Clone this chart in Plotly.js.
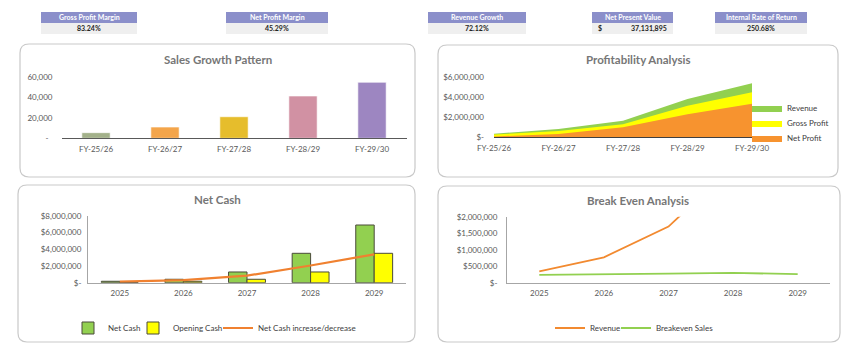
<!DOCTYPE html>
<html>
<head>
<meta charset="utf-8">
<script src="https://cdn.plot.ly/plotly-3.0.1.min.js"></script>
<style>html,body{margin:0;padding:0;background:#fff;}#chart{width:850px;height:352px;}</style>
</head>
<body>
<div id="chart"></div>
<script>
// ---------- DATA ----------
const kpiLabels = ['Gross Profit Margin', 'Net Profit Margin', 'Revenue Growth', 'Net Present Value', 'Internal Rate of Return'];
const kpiValues = ['83.24%', '45.29%', '72.12%', '37,131,895', '250.68%'];

const fiscalYears = ['FY-25/26', 'FY-26/27', 'FY-27/28', 'FY-28/29', 'FY-29/30'];
const salesUnits = [5500, 11000, 21100, 41400, 54800];

const profitRevenue = [330000, 800000, 1630000, 3800000, 5370000];
const profitGross = [250000, 600000, 1270000, 3130000, 4470000];
const profitNet = [60000, 300000, 970000, 2270000, 3330000];

const calendarYears = ['2025', '2026', '2027', '2028', '2029'];
const netCash = [170000, 410000, 1280000, 3510000, 6890000];
const openingCash = [0, 170000, 410000, 1280000, 3510000];
const netCashChange = [130000, 310000, 840000, 2050000, 3390000];

const breakRevenue = [345000, 770000, 1700000, 3700000, 5370000];
const breakevenSales = [237000, 268000, 277000, 298000, 258000];

const salesTicks = [0, 20000, 40000, 60000];
const salesTickText = ['-\u00a0\u00a0', '20,000', '40,000', '60,000'];
const profitTicks = [0, 2000000, 4000000, 6000000];
const profitTickText = ['$-', '$2,000,000', '$4,000,000', '$6,000,000'];
const cashTicks = [0, 2000000, 4000000, 6000000, 8000000];
const cashTickText = ['$-', '$2,000,000', '$4,000,000', '$6,000,000', '$8,000,000'];
const beTicks = [0, 500000, 1000000, 1500000, 2000000];
const beTickText = ['$-', '$500,000', '$1,000,000', '$1,500,000', '$2,000,000'];

// ---------- STYLE ----------
const W = 850, H = 352;
const fx = p => p / W;
const fy = p => 1 - p / H;
const FONT = 'Lato, "Open Sans", sans-serif';
const tickFont = {family: FONT, size: 8, color: '#595959'};
const salesColors = ['#a3b18a', '#f4a54a', '#e6bd2c', '#d191a3', '#9d86c1'];

function roundRect(x0, y0, x1, y1, r) {
  const X = fx, Y = fy;
  const rx = r / W, ry = r / H;
  return 'M' + (X(x0) + rx) + ',' + Y(y0) +
    ' L' + (X(x1) - rx) + ',' + Y(y0) +
    ' Q' + X(x1) + ',' + Y(y0) + ' ' + X(x1) + ',' + (Y(y0) - ry) +
    ' L' + X(x1) + ',' + (Y(y1) + ry) +
    ' Q' + X(x1) + ',' + Y(y1) + ' ' + (X(x1) - rx) + ',' + Y(y1) +
    ' L' + (X(x0) + rx) + ',' + Y(y1) +
    ' Q' + X(x0) + ',' + Y(y1) + ' ' + X(x0) + ',' + (Y(y1) + ry) +
    ' L' + X(x0) + ',' + (Y(y0) - ry) +
    ' Q' + X(x0) + ',' + Y(y0) + ' ' + (X(x0) + rx) + ',' + Y(y0) + ' Z';
}

const shapes = [];
const annotations = [];

// panels
[[20, 44, 415, 177], [438, 45, 838, 177], [18, 185, 415, 342], [438, 186, 840, 342]].forEach(p => {
  shapes.push({type: 'path', xref: 'paper', yref: 'paper', path: roundRect(p[0], p[1], p[2], p[3], 9),
    line: {color: '#c9c9c9', width: 1.2}, fillcolor: 'rgba(0,0,0,0)', layer: 'below'});
});

// KPI boxes
const kpiBoxes = [[41, 137], [226, 328], [428, 526], [592, 673], [715, 807]];
kpiLabels.forEach((lab, i) => {
  const b = kpiBoxes[i];
  shapes.push({type: 'rect', xref: 'paper', yref: 'paper', x0: fx(b[0]), x1: fx(b[1]), y0: fy(23), y1: fy(12),
    fillcolor: '#8b8fca', line: {width: 0}, layer: 'below'});
  shapes.push({type: 'rect', xref: 'paper', yref: 'paper', x0: fx(b[0]), x1: fx(b[1]), y0: fy(34), y1: fy(23),
    fillcolor: '#efefef', line: {width: 0}, layer: 'below'});
  annotations.push({xref: 'paper', yref: 'paper', x: fx((b[0] + b[1]) / 2), y: fy(17.5), text: '<b>' + lab + '</b>',
    showarrow: false, xanchor: 'center', yanchor: 'middle', font: {family: FONT, size: 7, color: '#ffffff'}});
  if (lab === 'Net Present Value') {
    annotations.push({xref: 'paper', yref: 'paper', x: fx(b[0] + 4), y: fy(28.5), text: '<b>$</b>',
      showarrow: false, xanchor: 'left', yanchor: 'middle', font: {family: FONT, size: 7, color: '#262626'}});
    annotations.push({xref: 'paper', yref: 'paper', x: fx(b[1] - 4), y: fy(28.5), text: '<b>' + kpiValues[i] + '</b>',
      showarrow: false, xanchor: 'right', yanchor: 'middle', font: {family: FONT, size: 7, color: '#262626'}});
  } else {
    annotations.push({xref: 'paper', yref: 'paper', x: fx((b[0] + b[1]) / 2), y: fy(28.5), text: '<b>' + kpiValues[i] + '</b>',
      showarrow: false, xanchor: 'center', yanchor: 'middle', font: {family: FONT, size: 7, color: '#262626'}});
  }
});

// chart titles
[['Sales Growth Pattern', 218, 59], ['Profitability Analysis', 638, 60], ['Net Cash', 217, 199], ['Break Even Analysis', 638, 200]].forEach(t => {
  annotations.push({xref: 'paper', yref: 'paper', x: fx(t[1]), y: fy(t[2]), text: '<b>' + t[0] + '</b>', showarrow: false,
    xanchor: 'center', yanchor: 'middle', font: {family: FONT, size: 11.5, color: '#767676'}});
});

// ---------- TRACES ----------
const traces = [];
traces.push({type: 'bar', x: fiscalYears, y: salesUnits, xaxis: 'x', yaxis: 'y', width: 0.41,
  marker: {color: salesColors, line: {color: 'rgba(255,255,255,0.6)', width: 1}}, showlegend: false, hoverinfo: 'skip'});

traces.push({type: 'scatter', mode: 'lines', x: fiscalYears, y: profitRevenue, xaxis: 'x2', yaxis: 'y2', name: 'Revenue',
  fill: 'tozeroy', fillcolor: '#92d050', line: {width: 0, color: '#92d050'}, legend: 'legend2'});
traces.push({type: 'scatter', mode: 'lines', x: fiscalYears, y: profitGross, xaxis: 'x2', yaxis: 'y2', name: 'Gross Profit',
  fill: 'tozeroy', fillcolor: '#ffff00', line: {width: 0, color: '#ffff00'}, legend: 'legend3'});
traces.push({type: 'scatter', mode: 'lines', x: fiscalYears, y: profitNet, xaxis: 'x2', yaxis: 'y2', name: 'Net Profit',
  fill: 'tozeroy', fillcolor: '#f7932f', line: {width: 0, color: '#f7932f'}, legend: 'legend4'});

traces.push({type: 'bar', x: calendarYears, y: netCash, xaxis: 'x3', yaxis: 'y3', name: 'Net Cash', width: 0.29, offset: -0.29,
  marker: {color: '#92d050', line: {color: '#4a4a3a', width: 1}}, legend: 'legend5'});
traces.push({type: 'bar', x: calendarYears, y: openingCash, xaxis: 'x3', yaxis: 'y3', name: 'Opening Cash', width: 0.29, offset: 0,
  marker: {color: '#ffff00', line: {color: '#4a4a3a', width: 1}}, legend: 'legend6'});
traces.push({type: 'scatter', mode: 'lines', x: calendarYears, y: netCashChange, xaxis: 'x3', yaxis: 'y3', name: 'Net Cash increase/decrease',
  line: {color: '#f08130', width: 2.2}, legend: 'legend7'});

traces.push({type: 'scatter', mode: 'lines', x: calendarYears, y: breakRevenue, xaxis: 'x4', yaxis: 'y4', name: 'Revenue',
  line: {color: '#f28a30', width: 1.8}, legend: 'legend8'});
traces.push({type: 'scatter', mode: 'lines', x: calendarYears, y: breakevenSales, xaxis: 'x4', yaxis: 'y4', name: 'Breakeven Sales',
  line: {color: '#92d050', width: 1.8}, legend: 'legend9'});

// ---------- LAYOUT ----------
function xAx(dom, anchor, range, lineColor) {
  return {type: 'category', domain: dom, anchor: anchor, range: range, showgrid: false, zeroline: false, showline: true,
    linecolor: lineColor, linewidth: 1, ticks: '', tickfont: tickFont, ticklabelstandoff: 3, fixedrange: true};
}
function yAx(dom, anchor, range, tv, tt, showLine, standoff) {
  return {domain: dom, anchor: anchor, range: range, showgrid: false, zeroline: false, showline: showLine,
    linecolor: '#a6a6a6', linewidth: 1, ticks: '', tickvals: tv, ticktext: tt, tickfont: tickFont,
    ticklabelstandoff: standoff, fixedrange: true};
}
function leg(px, py) {
  return {x: fx(px), y: fy(py), xanchor: 'left', yanchor: 'middle', orientation: 'h', bgcolor: 'rgba(0,0,0,0)',
    borderwidth: 0, font: {family: FONT, size: 8, color: '#404040'}, itemwidth: 30};
}

const layout = {
  width: W, height: H, margin: {l: 0, r: 0, t: 0, b: 0},
  paper_bgcolor: '#ffffff', plot_bgcolor: 'rgba(0,0,0,0)',
  font: {family: FONT},
  barmode: 'overlay',
  xaxis: xAx([fx(61.5), fx(406.5)], 'y', [-0.5, 4.5], '#595959'),
  yaxis: yAx([fy(138.3), fy(77)], 'x', [0, 60000], salesTicks, salesTickText, false, 8),
  xaxis2: xAx([fx(494), fx(752)], 'y2', [0, 4], '#404040'),
  yaxis2: yAx([fy(137), fy(77)], 'x2', [0, 6000000], profitTicks, profitTickText, false, 9),
  xaxis3: xAx([fx(88), fx(406)], 'y3', [-0.5, 4.5], '#a6a6a6'),
  yaxis3: yAx([fy(282.7), fy(215.7)], 'x3', [0, 8000000], cashTicks, cashTickText, true, 4),
  xaxis4: xAx([fx(507), fx(830)], 'y4', [-0.5, 4.5], '#a6a6a6'),
  yaxis4: yAx([fy(282.7), fy(216.7)], 'x4', [0, 2000000], beTicks, beTickText, true, 7),
  legend2: leg(747, 108),
  legend3: leg(747, 123),
  legend4: leg(747, 138),
  legend5: leg(68, 328),
  legend6: leg(133, 328),
  legend7: leg(218, 328),
  legend8: leg(550, 328),
  legend9: leg(616, 328),
  shapes: shapes,
  annotations: annotations,
  showlegend: true,
  hovermode: false
};

Plotly.newPlot('chart', traces, layout, {displayModeBar: false, staticPlot: true});
</script>
</body>
</html>
